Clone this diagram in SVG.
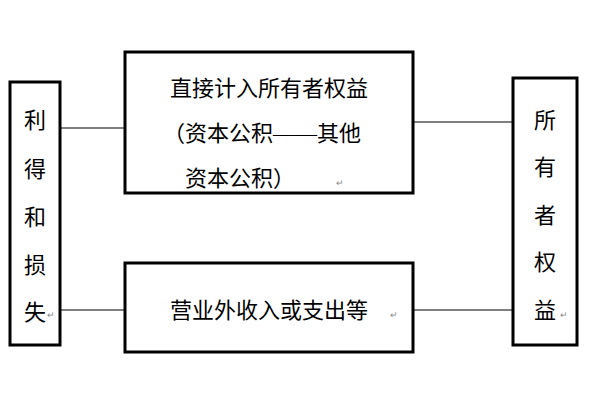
<svg xmlns="http://www.w3.org/2000/svg" width="600" height="400" viewBox="0 0 600 400">
<style>
.b{fill:#fff;stroke:#000;stroke-width:3}
.t{font-family:"Liberation Serif","Noto Sans CJK SC",serif;font-size:22px;fill:#000;text-anchor:middle}
.m{font-family:"Liberation Sans",sans-serif;font-size:9px;fill:#888}
.c{stroke:#000;stroke-width:1.2}
</style>
<rect width="600" height="400" fill="#fff"/>
<g id="connectors">
<line class="c" x1="60" y1="128" x2="125" y2="128"/>
<line class="c" x1="413" y1="122" x2="513" y2="122"/>
<line class="c" x1="60" y1="310" x2="125" y2="310"/>
<line class="c" x1="413" y1="310" x2="513" y2="310"/>
</g>
<g id="left">
<rect class="b" x="10" y="82" width="50" height="263"/>
<text class="t" x="35" y="128">利</text>
<text class="t" x="35" y="177">得</text>
<text class="t" x="35" y="225">和</text>
<text class="t" x="35" y="273">损</text>
<text class="t" x="35" y="320">失</text>
<text class="m" x="47" y="318">↵</text>
</g>
<g id="top">
<rect class="b" x="125" y="52" width="288" height="141"/>
<text class="t" x="269" y="96">直接计入所有者权益</text>
<text class="t" x="262" y="141">（资本公积——其他</text>
<text class="t" x="240" y="186">资本公积）</text>
<text class="m" x="336" y="186">↵</text>
</g>
<g id="bottom">
<rect class="b" x="125" y="263" width="288" height="89"/>
<text class="t" x="269" y="318">营业外收入或支出等</text>
<text class="m" x="390" y="318">↵</text>
</g>
<g id="right">
<rect class="b" x="513" y="78" width="64" height="267"/>
<text class="t" x="545" y="128">所</text>
<text class="t" x="545" y="175">有</text>
<text class="t" x="545" y="223">者</text>
<text class="t" x="545" y="270">权</text>
<text class="t" x="545" y="318">益</text>
<text class="m" x="560" y="318">↵</text>
</g>
</svg>
